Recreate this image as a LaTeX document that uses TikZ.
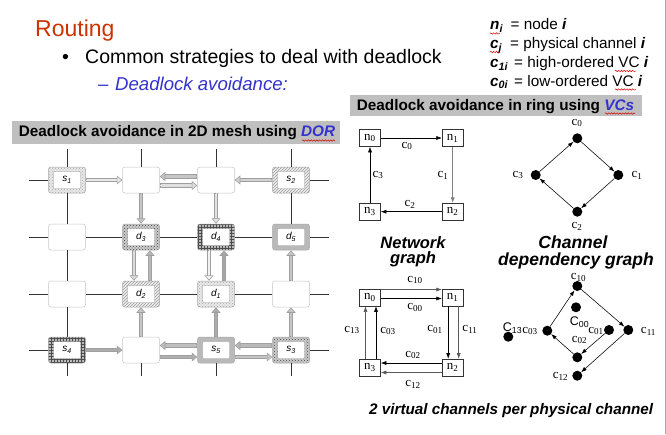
\documentclass[tikz,border=0pt]{standalone}
\usepackage{fontspec}
\setmainfont{Liberation Sans}
\newfontfamily\tnr{Liberation Serif}
\usetikzlibrary{arrows.meta,patterns,calc,decorations.pathmorphing}
\definecolor{tred}{RGB}{204,51,0}
\definecolor{lblue}{RGB}{51,51,204}
\newcommand\meshar[3]{%
  \draw[line width=4.4pt, gray!75, shorten >=5pt] (#1) -- (#2);
  \draw[line width=2.6pt, #3, shorten >=5pt, shorten <=0.9pt] (#1) -- (#2);
  \draw[line width=0.3pt, #3, -{Triangle[length=5.5pt, width=9pt, fill=#3, color=gray!75, line width=0.6pt]}] (#1) -- (#2);
}
\tikzset{
  mbox/.style={rounded corners=2.5pt, draw=gray!70, line width=0.5pt, minimum width=37pt, minimum height=26pt, inner sep=0pt, font=\fontsize{10}{10}\selectfont\itshape},
  ebox/.style={mbox, fill=white, draw=gray!45},
  frm/.style={mbox, path picture={\filldraw[fill=white, draw=gray!80, line width=0.4pt, rounded corners=0.8pt] ([shift={(5pt,4.5pt)}]path picture bounding box.south west) rectangle ([shift={(-5pt,-4.5pt)}]path picture bounding box.north east);}},
  fA/.style={frm, preaction={fill=gray!18}, pattern=crosshatch dots, pattern color=gray!65},
  fB/.style={frm, preaction={fill=gray!12}, pattern=north east lines, pattern color=gray!80},
  fC/.style={frm, preaction={fill=gray!40}, pattern=crosshatch dots, pattern color=black!75},
  fD/.style={frm, preaction={fill=gray!55}, pattern=grid, pattern color=black!70},
  fE/.style={frm, fill=gray!55},
  gl/.style={draw=black!80, line width=1pt},
  rbox/.style={draw=black!80, line width=0.6pt, minimum width=21pt, minimum height=17pt, inner sep=0pt, font=\tnr\fontsize{13}{13}\selectfont, fill=white},
  rar/.style={line width=0.55pt, -{Latex[length=5.5pt,width=4pt]}},
  clab/.style={inner sep=0pt, font=\tnr\fontsize{13}{13}\selectfont},
  cdot/.style={circle, fill=black, minimum size=10pt, inner sep=0pt},
  bigc/.style={inner sep=0pt, font=\fontsize{12.5}{12.5}\selectfont},
  wav/.style={draw=red!85!black, line width=0.5pt, decorate, decoration={snake, amplitude=0.7pt, segment length=2.8pt}},
  lgd/.style={anchor=base west, inner sep=0pt, font=\fontsize{15.3}{15.3}\selectfont},
  captn/.style={anchor=base, inner sep=0pt, font=\fontsize{16.5}{16.5}\selectfont\bfseries\itshape},
}
\begin{document}
\begin{tikzpicture}[x=1pt,y=-1pt]
\useasboundingbox (0,0) rectangle (666,434);
\fill[white] (0,0) rectangle (666,434);
\draw[gray!70, line width=1pt] (665,0) -- (665,434);

% ---- titles
\node[anchor=base west, inner sep=0pt, text=tred, font=\fontsize{23}{23}\selectfont] (title) at (35,36.7) {Routing};
\node[anchor=base west, inner sep=0pt, font=\fontsize{19.5}{19.5}\selectfont] (bul) at (62,63.3) {•};
\node[anchor=base west, inner sep=0pt, font=\fontsize{19.5}{19.5}\selectfont] (line1) at (85,63.3) {Common strategies to deal with deadlock};
\node[anchor=base west, inner sep=0pt, text=lblue, font=\fontsize{18.6}{18.6}\selectfont\itshape] (dash) at (98,90.7) {–};
\node[anchor=base west, inner sep=0pt, text=lblue, font=\fontsize{18.6}{18.6}\selectfont\itshape] (line2) at (115,90.7) {Deadlock avoidance:};

% ---- legend
\node[lgd] (s1) at (490,29.5) {\textbf{\textit{n\textsubscript{i}}}};
\node[lgd] (t1) at (510.5,29.5) {= node \textbf{\textit{i}}};
\node[lgd] (s2) at (490,48.5) {\textbf{\textit{c\textsubscript{j}}}};
\node[lgd] (t2) at (510,48.5) {= physical channel \textbf{\textit{i}}};
\node[lgd] (s3) at (490,67.5) {\textbf{\textit{c\textsubscript{1i}}}};
\node[lgd] (t3) at (514,67.5) {= high-ordered VC \textbf{\textit{i}}};
\node[lgd] (s4) at (490,86) {\textbf{\textit{c\textsubscript{0i}}}};
\node[lgd] (t4) at (514,86) {= low-ordered VC \textbf{\textit{i}}};
\draw[wav] (490,33.5) -- (500,33.5);
\draw[wav] (490,52) -- (500,52);
\draw[wav] (615,71) -- (636,71);
\draw[wav] (615,89.5) -- (636,89.5);

% ---- banners
\node[fill=gray!50, anchor=north west, minimum width=292pt, minimum height=21pt, inner sep=0pt] (bring) at (350,94.5) {};
\node[anchor=base west, inner sep=0pt, font=\fontsize{15.3}{15.3}\selectfont\bfseries] (bringt) at (356.7,110.7) {Deadlock avoidance in ring using \textit{\textcolor{lblue}{VCs}}};
\draw[wav] (605,113.5) -- (635,113.5);
\node[fill=gray!50, anchor=north west, minimum width=328pt, minimum height=23pt, inner sep=0pt] (bmesh) at (12,120.3) {};
\node[anchor=base west, inner sep=0pt, font=\fontsize{15.3}{15.3}\selectfont\bfseries] (bmesht) at (18.7,136.7) {Deadlock avoidance in 2D mesh using \textit{\textcolor{lblue}{DOR}}};
\draw[wav] (302,140.5) -- (335,140.5);

% ---- mesh nodes
\node[fA] (m11) at (67,180) {s\textsubscript{1}};
\node[ebox] (m12) at (141,180) {};
\node[ebox] (m13) at (216,180) {};
\node[fB] (m14) at (291,180) {s\textsubscript{2}};
\node[ebox] (m21) at (67,237) {};
\node[fC] (m22) at (141,237) {d\textsubscript{3}};
\node[fD] (m23) at (216,237) {d\textsubscript{4}};
\node[fE] (m24) at (291,237) {d\textsubscript{5}};
\node[ebox] (m31) at (67,294) {};
\node[fB] (m32) at (141,294) {d\textsubscript{2}};
\node[fA] (m33) at (216,294) {d\textsubscript{1}};
\node[ebox] (m34) at (291,294) {};
\node[fD] (m41) at (67,350) {s\textsubscript{4}};
\node[ebox] (m42) at (141,350) {};
\node[fE] (m43) at (216,350) {s\textsubscript{5}};
\node[fC] (m44) at (291,350) {s\textsubscript{3}};

% grid stubs
\foreach \r/\y in {1/180,2/237,3/294,4/350}{
  \coordinate (L\r) at (29,\y); \coordinate (R\r) at (329,\y);
}
\foreach \c/\x in {1/67,2/141,3/216,4/291}{
  \coordinate (T\c) at (\x,149); \coordinate (B\c) at (\x,376);
}
\draw[gl] (L1) -- (m11.west) (m14.east) -- (R1);
\draw[gl] (L4) -- (m41.west) (m44.east) -- (R4);
\draw[gl] (L2) -- (m21.west) (m21.east) -- (m22.west) (m22.east) -- (m23.west) (m23.east) -- (m24.west) (m24.east) -- (R2);
\draw[gl] (L3) -- (m31.west) (m31.east) -- (m32.west) (m32.east) -- (m33.west) (m33.east) -- (m34.west) (m34.east) -- (R3);
\draw[gl] (T1) -- (m11.north) (m11.south) -- (m21.north) (m21.south) -- (m31.north) (m31.south) -- (m41.north) (m41.south) -- (B1);
\draw[gl] (T2) -- (m12.north) (m42.south) -- (B2);
\draw[gl] (T3) -- (m13.north) (m43.south) -- (B3);
\draw[gl] (T4) -- (m14.north) (m14.south) -- (m24.north) (m44.south) -- (B4);

% mesh arrows
\meshar{m11.east}{m12.west}{gray!18}
\meshar{$(m13.west)+(0,-3.5)$}{$(m12.east)+(0,-3.5)$}{gray!45}
\meshar{$(m12.east)+(0,5.5)$}{$(m13.west)+(0,5.5)$}{gray!25}
\meshar{m14.west}{m13.east}{gray!35}
\meshar{m12.south}{m22.north}{gray!45}
\meshar{m13.south}{m23.north}{gray!22}
\meshar{$(m22.south)+(-7,0)$}{$(m32.north)+(-7,0)$}{gray!28}
\meshar{$(m32.north)+(9,0)$}{$(m22.south)+(9,0)$}{gray!55}
\meshar{$(m23.south)+(-7,0)$}{$(m33.north)+(-7,0)$}{gray!10}
\meshar{$(m33.north)+(8,0)$}{$(m23.south)+(8,0)$}{gray!70}
\meshar{m34.north}{m24.south}{gray!45}
\meshar{m42.north}{m32.south}{gray!45}
\meshar{m43.north}{m33.south}{gray!65}
\meshar{m44.north}{m34.south}{gray!45}
\meshar{m41.east}{m42.west}{gray!65}
\meshar{$(m43.west)+(0,-4.5)$}{$(m42.east)+(0,-4.5)$}{gray!50}
\meshar{$(m42.east)+(0,7)$}{$(m43.west)+(0,7)$}{gray!62}
\meshar{$(m44.west)+(0,-4.5)$}{$(m43.east)+(0,-4.5)$}{gray!55}
\meshar{$(m43.east)+(0,7)$}{$(m44.west)+(0,7)$}{gray!45}

% ---- upper ring (network graph)
\node[rbox] (n0) at (370,138) {n\textsubscript{0}};
\node[rbox] (n1) at (452.7,138) {n\textsubscript{1}};
\node[rbox] (n2) at (452.7,211.7) {n\textsubscript{2}};
\node[rbox] (n3) at (370,211.7) {n\textsubscript{3}};
\draw[rar] (n0) -- (n1);
\draw[rar, gray] (n1) -- (n2);
\draw[rar] (n2) -- (n3);
\draw[rar] (n3) -- (n0);
\node[clab] (lc0) at (407,146) {c\textsubscript{0}};
\node[clab] (lc1) at (443,175) {c\textsubscript{1}};
\node[clab] (lc2) at (410,204) {c\textsubscript{2}};
\node[clab] (lc3) at (378,175) {c\textsubscript{3}};

% ---- upper channel dependency graph
\node[cdot] (k0) at (577.3,138.3) {};
\node[cdot] (k1) at (618.3,175) {};
\node[cdot] (k2) at (577.3,211.7) {};
\node[cdot] (k3) at (535.7,175) {};
\draw[rar] (k0) -- (k1);
\draw[rar] (k1) -- (k2);
\draw[rar] (k2) -- (k3);
\draw[rar] (k3) -- (k0);
\node[clab] (lk0) at (577,123) {c\textsubscript{0}};
\node[clab] (lk1) at (637,175) {c\textsubscript{1}};
\node[clab] (lk2) at (577,226) {c\textsubscript{2}};
\node[clab] (lk3) at (518,175) {c\textsubscript{3}};

% ---- captions
\node[captn] (ng1) at (413,248.3) {Network};
\node[captn] (ng2) at (413,263.3) {graph};
\node[captn, font=\fontsize{17.5}{17.5}\selectfont\bfseries\itshape] (cg1) at (573,248.5) {Channel};
\node[captn, font=\fontsize{17.5}{17.5}\selectfont\bfseries\itshape] (cg2) at (576,265.3) {dependency graph};

% ---- lower ring (2 VCs)
\node[rbox] (N0) at (370,297.5) {n\textsubscript{0}};
\node[rbox] (N1) at (452.7,297.5) {n\textsubscript{1}};
\node[rbox] (N2) at (452.7,367.5) {n\textsubscript{2}};
\node[rbox] (N3) at (370,367.5) {n\textsubscript{3}};
\draw[rar, gray!70!black] ($(N0.east)+(0,-8)$) -- ($(N1.west)+(0,-8)$);
\draw[rar] ($(N0.east)+(0,1)$) -- ($(N1.west)+(0,1)$);
\draw[rar] ($(N1.south)+(-4.5,0)$) -- ($(N2.north)+(-4.5,0)$);
\draw[rar, gray!70!black] ($(N1.south)+(6,0)$) -- ($(N2.north)+(6,0)$);
\draw[rar] ($(N2.west)+(0,-4.5)$) -- ($(N3.east)+(0,-4.5)$);
\draw[rar, gray!70!black] ($(N2.west)+(0,5)$) -- ($(N3.east)+(0,5)$);
\draw[rar, gray!70!black] ($(N3.north)+(-4.5,0)$) -- ($(N0.south)+(-4.5,0)$);
\draw[rar] ($(N3.north)+(6,0)$) -- ($(N0.south)+(6,0)$);
\node[clab] (lc10) at (415,280) {c\textsubscript{10}};
\node[clab] (lc00) at (415,307.5) {c\textsubscript{00}};
\node[clab] (lc01) at (435,329.5) {c\textsubscript{01}};
\node[clab] (lc11) at (470,329.5) {c\textsubscript{11}};
\node[clab] (lc13) at (352,330) {c\textsubscript{13}};
\node[clab] (lc03) at (388,331) {c\textsubscript{03}};
\node[clab] (lc02) at (413,355) {c\textsubscript{02}};
\node[clab] (lc12) at (413,384) {c\textsubscript{12}};

% ---- lower channel dependency graph
\node[cdot] (q10) at (577.3,286) {};
\node[cdot] (q00) at (576,307.3) {};
\node[cdot] (q11) at (628.3,330) {};
\node[cdot] (q01) at (609,330) {};
\node[cdot] (q03) at (547.3,330.7) {};
\node[cdot] (q13) at (508.3,336.7) {};
\node[cdot] (q02) at (577.3,357.3) {};
\node[cdot] (q12) at (577.3,375.7) {};
\draw[rar] (q03) -- (q10);
\draw[rar] (q10) -- (q11);
\draw[rar] (q11) -- (q12);
\draw[rar] (q01) -- (q02);
\draw[rar] (q02) -- (q03);
\node[clab] (lq10) at (578.5,277.5) {c\textsubscript{10}};
\node[bigc] (lq13) at (512.5,328) {C\textsubscript{13}};
\node[clab] (lq03) at (530,331) {c\textsubscript{03}};
\node[bigc] (lq00) at (579.5,322) {C\textsubscript{00}};
\node[clab] (lq01) at (596,331) {c\textsubscript{01}};
\node[clab] (lq02) at (579.5,340) {c\textsubscript{02}};
\node[clab] (lq11) at (648.5,331.5) {c\textsubscript{11}};
\node[clab] (lq12) at (560.5,376.7) {c\textsubscript{12}};

% ---- footer
\node[anchor=base west, inner sep=0pt, font=\fontsize{15.25}{15.25}\selectfont\bfseries\itshape] (foot) at (369,414) {2 virtual channels per physical channel};
\end{tikzpicture}
\end{document}
